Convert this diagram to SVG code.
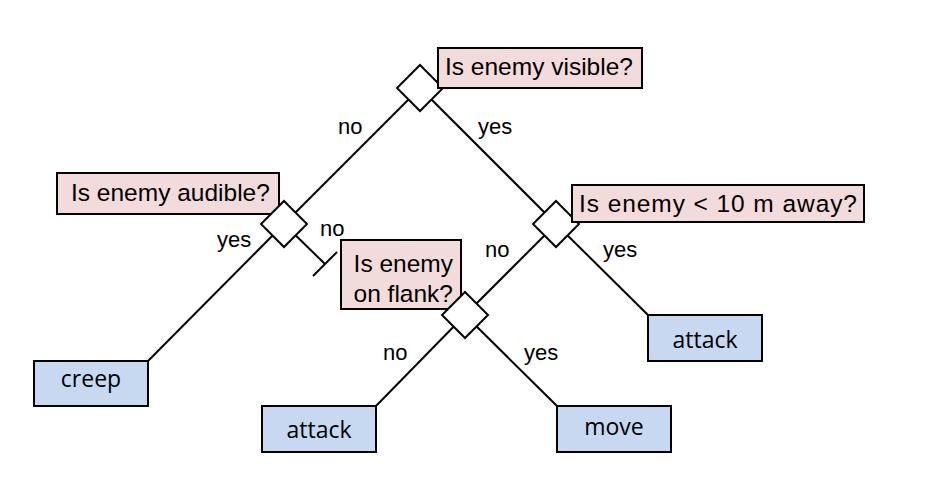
<svg xmlns="http://www.w3.org/2000/svg" width="936" height="484" viewBox="0 0 936 484">
  <style>
    .edge { stroke: #000; stroke-width: 2; fill: none; stroke-linecap: butt; }
    .dec { fill: #ffffff; stroke: #000; stroke-width: 2; }
    .q { fill: #f2dcdb; stroke: #000; stroke-width: 2; }
    .leaf { fill: #c6d9f1; stroke: #000; stroke-width: 2; }
    .qt { font-family: "Liberation Sans", Arial, sans-serif; font-size: 24.5px; fill: #000; }
    .lt { font-family: "Open Sans", "Liberation Sans", sans-serif; font-size: 23px; fill: #000; text-anchor: middle; }
    .bl { font-family: "Liberation Sans", Arial, sans-serif; font-size: 22px; fill: #000; }
  </style>
  <rect width="936" height="484" fill="#ffffff"/>
  <g id="connectors">
    <line class="edge" x1="420" y1="88" x2="284" y2="224"/>
    <line class="edge" x1="420" y1="88" x2="556" y2="224"/>
    <line class="edge" x1="284" y1="224" x2="148" y2="361"/>
    <line class="edge" x1="284" y1="224" x2="325" y2="264"/>
    <line class="edge" x1="313" y1="276" x2="337" y2="252"/>
    <line class="edge" x1="556" y1="224" x2="648" y2="315"/>
    <line class="edge" x1="556" y1="224" x2="465" y2="315"/>
    <line class="edge" x1="465" y1="315" x2="376" y2="406"/>
    <line class="edge" x1="465" y1="315" x2="557" y2="406"/>
    <text class="bl" x="338" y="134">no</text>
    <text class="bl" x="478" y="134">yes</text>
    <text class="bl" x="217" y="247">yes</text>
    <text class="bl" x="320" y="236">no</text>
    <text class="bl" x="485" y="257">no</text>
    <text class="bl" x="603" y="257">yes</text>
    <text class="bl" x="383" y="360">no</text>
    <text class="bl" x="524" y="360">yes</text>
  </g>
  <g id="node-visible">
    <polygon class="dec" points="420,65 443,88 420,111 397,88"/>
    <rect class="q" x="438" y="48" width="204" height="40"/>
    <text class="qt" x="445" y="75">Is enemy visible?</text>
  </g>
  <g id="node-audible">
    <rect class="q" x="57" y="173" width="222" height="41"/>
    <text class="qt" x="71" y="201">Is enemy audible?</text>
    <polygon class="dec" points="284,201 307,224 284,247 261,224"/>
  </g>
  <g id="node-distance">
    <polygon class="dec" points="556,201 579,224 556,247 533,224"/>
    <rect class="q" x="572" y="185" width="292" height="37"/>
    <text class="qt" x="579" y="212" textLength="278" lengthAdjust="spacing">Is enemy &lt; 10 m away?</text>
  </g>
  <g id="node-flank">
    <rect class="q" x="341" y="240" width="120" height="69"/>
    <text class="qt" x="453" y="272" text-anchor="end">Is enemy</text>
    <text class="qt" x="453" y="302" text-anchor="end">on flank?</text>
    <polygon class="dec" points="465,292 488,315 465,338 442,315"/>
  </g>
  <g id="leaf-creep">
    <rect class="leaf" x="34" y="361" width="114" height="45"/>
    <text class="lt" x="91" y="387">creep</text>
  </g>
  <g id="leaf-attack-left">
    <rect class="leaf" x="262" y="406" width="114" height="46"/>
    <text class="lt" x="319" y="438">attack</text>
  </g>
  <g id="leaf-move">
    <rect class="leaf" x="557" y="406" width="114" height="46"/>
    <text class="lt" x="614" y="435">move</text>
  </g>
  <g id="leaf-attack-right">
    <rect class="leaf" x="648" y="315" width="114" height="46"/>
    <text class="lt" x="705" y="348">attack</text>
  </g>
</svg>
